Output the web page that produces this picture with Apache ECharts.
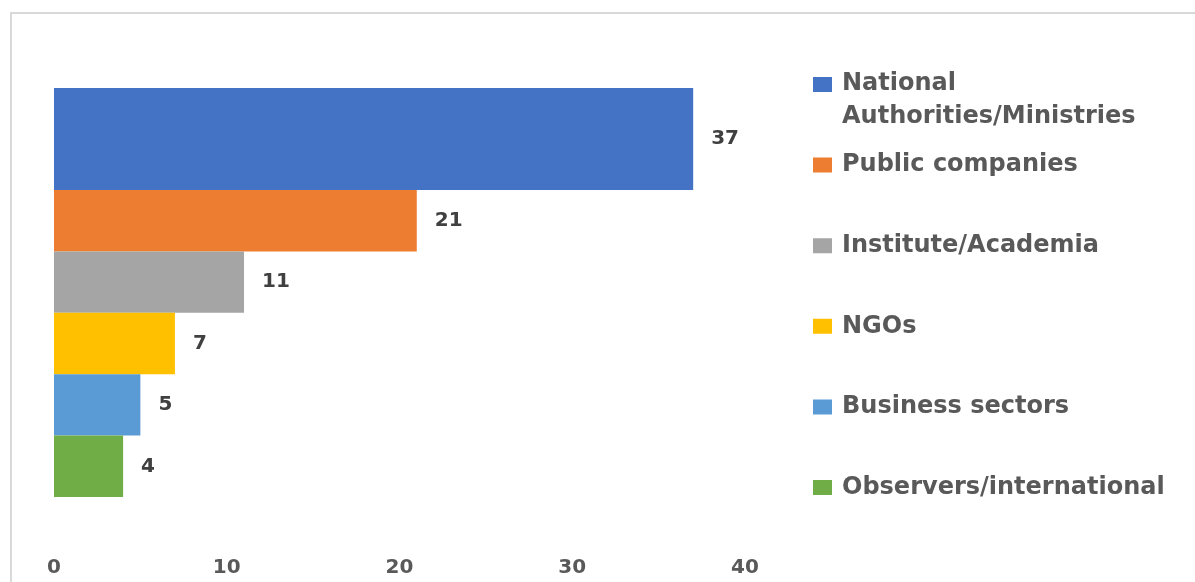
<!DOCTYPE html>
<html lang="en">
<head>
<meta charset="UTF-8">
<title>Participants by sector</title>
<script src="https://cdnjs.cloudflare.com/ajax/libs/echarts/6.0.0/echarts.min.js"></script>
<style>
    html, body { margin: 0; padding: 0; background: #fff; }
    #main { width: 1195px; height: 582px; }
</style>
</head>
<body>
<div id="main"></div>
<script>
    var categories = ['National Authorities/Ministries', 'Public companies', 'Institute/Academia', 'NGOs', 'Business sectors', 'Observers/international'];
    var values = [37, 21, 11, 7, 5, 4];
    var xTicks = [0, 10, 20, 30, 40];

    var colors = ['#4472C4', '#ED7D31', '#A5A5A5', '#FFC000', '#5B9BD5', '#70AD47'];
    var font = 'DejaVu Sans';

    var chart = echarts.init(document.getElementById('main'));

    function renderBar(params, api) {
        var idx = api.value(1);
        var start = api.coord([0, idx]);
        var end = api.coord([api.value(0), idx]);
        var band = api.size([0, 1])[1];
        var top = start[1] - band / 2;
        var h = band;
        // the first bar is drawn thicker in the original
        if (idx === 0) {
            top -= band * 0.66;
            h += band * 0.66;
        }
        return {
            type: 'group',
            children: [
                {
                    type: 'rect',
                    shape: { x: start[0], y: top, width: end[0] - start[0], height: h },
                    style: api.style()
                },
                {
                    type: 'text',
                    style: {
                        text: String(api.value(0)),
                        x: end[0] + 18,
                        y: top + h / 2,
                        verticalAlign: 'middle',
                        fill: '#404040',
                        fontSize: 20,
                        fontWeight: 'bold',
                        fontFamily: font
                    }
                }
            ]
        };
    }

    var series = categories.map(function (name, i) {
        return {
            type: 'custom',
            name: name,
            renderItem: renderBar,
            itemStyle: { color: colors[i] },
            encode: { x: 0, y: 1 },
            data: [[values[i], name]]
        };
    });

    var legendFont = { color: '#595959', fontSize: 24, fontWeight: 'bold', fontFamily: font };

    var option = {
        animation: false,
        graphic: [{
            type: 'rect',
            silent: true,
            shape: { x: 11, y: 13, width: 1200, height: 600 },
            style: { fill: 'none', stroke: '#d9d9d9', lineWidth: 2 }
        }],
        grid: { left: 54, right: 450, top: 128.6, bottom: 85 },
        legend: {
            orient: 'vertical',
            left: 813,
            top: 37.5,
            padding: 0,
            itemGap: -13.4,
            itemWidth: 19,
            itemHeight: 94,
            // tall icon box so the two-line first entry keeps the same spacing
            icon: 'path://M0,39.5h19v15h-19z M0,0h0.01 M0,94h0.01',
            selectedMode: false,
            itemStyle: { borderWidth: 0 },
            textStyle: {
                color: '#595959', fontSize: 24, fontWeight: 'bold', fontFamily: font,
                padding: [0, 0, 0, 5],
                rich: {
                    a: Object.assign({ lineHeight: 65 }, legendFont),
                    b: Object.assign({ lineHeight: 1 }, legendFont),
                    c: Object.assign({ lineHeight: 33 }, legendFont)
                }
            },
            formatter: function (name) {
                if (name === categories[0]) {
                    var cut = name.indexOf(' ');
                    return '{a|' + name.slice(0, cut) + '}\n{b|' + name.slice(cut + 1) + '}';
                }
                return '{c|' + name + '}';
            }
        },
        xAxis: {
            type: 'value',
            min: xTicks[0],
            max: xTicks[xTicks.length - 1],
            interval: xTicks[1] - xTicks[0],
            axisLine: { show: false },
            axisTick: { show: false },
            splitLine: { show: false },
            axisLabel: { margin: 61, color: '#595959', fontSize: 20, fontWeight: 'bold', fontFamily: font }
        },
        yAxis: {
            type: 'category',
            data: categories,
            inverse: true,
            show: false
        },
        series: series
    };

    chart.setOption(option);
</script>
</body>
</html>
